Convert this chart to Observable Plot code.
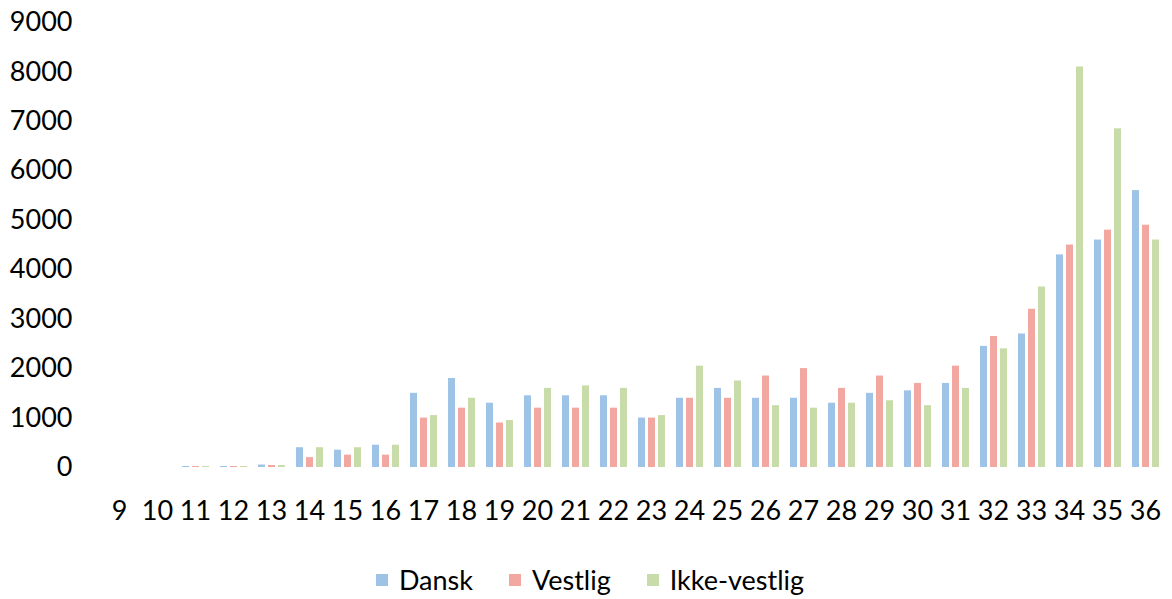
<!DOCTYPE html>
<html>
<head>
<meta charset="utf-8">
<script src="https://cdn.jsdelivr.net/npm/d3@7"></script>
<script src="https://cdn.jsdelivr.net/npm/@observablehq/plot@0.6"></script>
<style>
  body { margin: 0; background: #ffffff; font-family: Lato, "Open Sans", sans-serif; }
  #legend { display: flex; justify-content: center; align-items: center; gap: 36px; height: 39px; padding-top: 20px; font-size: 27px; color: #000; padding-left: 8px; }
  .item { display: flex; align-items: center; gap: 11px; }
  .sw { width: 12px; height: 12px; display: inline-block; }
</style>
</head>
<body>
<div id="chart"></div>
<div id="legend"></div>
<script>
const categories = ["9","10","11","12","13","14","15","16","17","18","19","20","21","22","23","24","25","26","27","28","29","30","31","32","33","34","35","36"];
const seriesNames = ["Dansk", "Vestlig", "Ikke-vestlig"];
const dansk       = [0,0,20,20,50,400,350,450,1500,1800,1300,1450,1450,1450,1000,1400,1600,1400,1400,1300,1500,1550,1700,2450,2700,4300,4600,5600];
const vestlig     = [0,0,20,20,40,200,250,250,1000,1200,900,1200,1200,1200,1000,1400,1400,1850,2000,1600,1850,1700,2050,2650,3200,4500,4800,4900];
const ikkeVestlig = [0,0,20,20,40,400,400,450,1050,1400,950,1600,1650,1600,1050,2050,1750,1250,1200,1300,1350,1250,1600,2400,3650,8100,6850,4600];
const yTicks = [0,1000,2000,3000,4000,5000,6000,7000,8000,9000];
const colors = ["#9dc3e6", "#f2a8a1", "#c8dcaa"];

const valuesBySeries = [dansk, vestlig, ikkeVestlig];
const data = categories.flatMap((c, i) => seriesNames.map((s, k) => ({cat: c, series: s, value: valuesBySeries[k][i]})));

const chart = Plot.plot({
  width: 1172,
  height: 540,
  marginTop: 22,
  marginBottom: 73,
  marginLeft: 99,
  marginRight: 8,
  style: {fontFamily: "Lato, 'Open Sans', sans-serif", fontSize: "27px", color: "#000", background: "#ffffff"},
  fx: {domain: categories, paddingInner: 0, paddingOuter: 0, label: null, tickSize: 0, tickPadding: 33},
  x: {domain: seriesNames, paddingInner: 0.3, paddingOuter: 0.55, axis: null},
  y: {domain: [0, 9000], ticks: yTicks, label: null, tickSize: 0, tickPadding: 28, tickFormat: d => String(d)},
  color: {domain: seriesNames, range: colors},
  marks: [
    Plot.barY(data, {fx: "cat", x: "series", y: "value", fill: "series"})
  ]
});
document.getElementById("chart").appendChild(chart);

const legend = document.getElementById("legend");
seriesNames.forEach((s, k) => {
  const item = document.createElement("div");
  item.className = "item";
  const sw = document.createElement("span");
  sw.className = "sw";
  sw.style.background = colors[k];
  const t = document.createElement("span");
  t.textContent = s;
  item.appendChild(sw);
  item.appendChild(t);
  legend.appendChild(item);
});
</script>
</body>
</html>
